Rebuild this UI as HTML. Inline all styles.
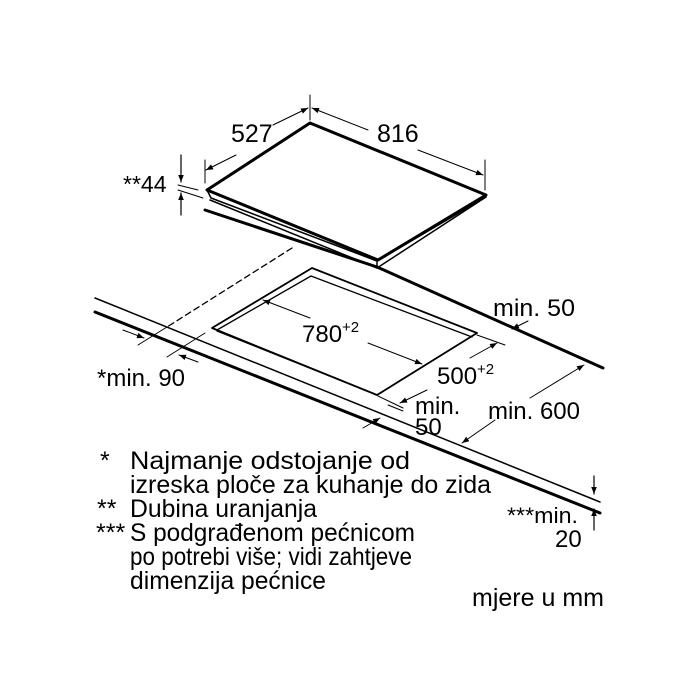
<!DOCTYPE html>
<html><head><meta charset="utf-8"><style>
html,body{margin:0;padding:0;background:#fff}
svg{display:block}
text{font-family:"Liberation Sans",Arial,sans-serif;fill:#000}
</style></head><body>
<svg width="700" height="700" viewBox="0 0 700 700" xmlns="http://www.w3.org/2000/svg">
<defs>
<marker id="a" viewBox="0 0 10 10" refX="10" refY="5" markerWidth="9" markerHeight="7" orient="auto-start-reverse" markerUnits="userSpaceOnUse">
<path d="M0,1 L10,5 L0,9 z" fill="#000"/></marker>
</defs>
<g stroke="#000" fill="none" stroke-linecap="round" stroke-linejoin="round">
<polygon points="310,123 486,195 378,260 207,190" stroke-width="3"/>
<polyline points="207,190 211,198 377,261 486,197" stroke-width="1.5"/>
<line x1="210" y1="200" x2="377" y2="268" stroke-width="1.5"/>
<line x1="377" y1="262" x2="377" y2="268" stroke-width="1.5"/>
<line x1="377" y1="268" x2="486" y2="197" stroke-width="1.5"/>
<line x1="205" y1="210" x2="377" y2="267" stroke-width="3"/>
<line x1="377" y1="267" x2="603" y2="368" stroke-width="3"/>
<line x1="95" y1="298" x2="600" y2="502" stroke-width="1.5"/>
<line x1="95" y1="312" x2="600" y2="513" stroke-width="3"/>
<line x1="292" y1="248" x2="167" y2="327" stroke-width="1.3" stroke-dasharray="6,4"/>
<polygon points="312,268 477,333 377,395 212,328" stroke-width="1.8"/>
<polyline points="217,330 311,276 472,337" stroke-width="1.3"/>
<line x1="217" y1="331" x2="377" y2="395" stroke-width="1.3"/>
<line x1="205" y1="160" x2="205" y2="183" stroke-width="1"/>
<line x1="310" y1="95" x2="310" y2="120" stroke-width="1"/>
<line x1="485" y1="160" x2="485" y2="190" stroke-width="1"/>
<line x1="273" y1="125" x2="308" y2="108" stroke-width="1" marker-end="url(#a)"/>
<line x1="236" y1="155" x2="206" y2="170" stroke-width="1" marker-end="url(#a)"/>
<line x1="368" y1="130" x2="312" y2="108" stroke-width="1" marker-end="url(#a)"/>
<line x1="418" y1="150" x2="483" y2="175" stroke-width="1" marker-end="url(#a)"/>
<line x1="181" y1="155" x2="181" y2="182" stroke-width="1.2" marker-end="url(#a)"/>
<line x1="181" y1="215" x2="181" y2="193" stroke-width="1.2" marker-end="url(#a)"/>
<line x1="178" y1="185" x2="198" y2="190" stroke-width="1"/>
<line x1="178" y1="190" x2="203" y2="198" stroke-width="1"/>
<line x1="310" y1="318" x2="263" y2="300" stroke-width="1" marker-end="url(#a)"/>
<line x1="368" y1="343" x2="422" y2="364" stroke-width="1" marker-end="url(#a)"/>
<line x1="477" y1="335" x2="505" y2="345" stroke-width="1"/>
<line x1="378" y1="396" x2="403" y2="408" stroke-width="1"/>
<line x1="470" y1="358" x2="497" y2="343" stroke-width="1" marker-end="url(#a)"/>
<line x1="427" y1="390" x2="400" y2="403" stroke-width="1" marker-end="url(#a)"/>
<line x1="363" y1="428" x2="380" y2="418" stroke-width="1" marker-end="url(#a)"/>
<line x1="388" y1="405" x2="403" y2="411" stroke-width="1"/>
<line x1="530" y1="398" x2="584" y2="365" stroke-width="1" marker-end="url(#a)"/>
<line x1="495" y1="420" x2="462" y2="443" stroke-width="1" marker-end="url(#a)"/>
<line x1="528" y1="321" x2="512" y2="329" stroke-width="1" marker-end="url(#a)"/>
<line x1="123" y1="330" x2="144" y2="338" stroke-width="1" marker-end="url(#a)"/>
<line x1="198" y1="362" x2="179" y2="355" stroke-width="1" marker-end="url(#a)"/>
<line x1="138" y1="345" x2="167" y2="327" stroke-width="1"/>
<line x1="167" y1="357" x2="205" y2="333" stroke-width="1"/>
<line x1="594" y1="476" x2="594" y2="494" stroke-width="1.2" marker-end="url(#a)"/>
<line x1="594" y1="530" x2="594" y2="509" stroke-width="1.2" marker-end="url(#a)"/>
</g>
<g font-size="24">
<text x="231" y="142" font-size="25">527</text>
<text x="377" y="142" font-size="25">816</text>
<text x="123" y="192" font-size="23">**44</text>
<text x="302" y="342">780<tspan font-size="15" dy="-10">+2</tspan></text>
<text x="437" y="384">500<tspan font-size="15" dy="-10">+2</tspan></text>
<text x="415" y="414">min.</text>
<text x="415" y="435">50</text>
<text x="488" y="419" textLength="92" lengthAdjust="spacingAndGlyphs">min. 600</text>
<text x="493" y="316" textLength="82" lengthAdjust="spacingAndGlyphs">min. 50</text>
<text x="97" y="386" textLength="88" lengthAdjust="spacingAndGlyphs">*min. 90</text>
<text x="507" y="523" font-size="22" textLength="71" lengthAdjust="spacingAndGlyphs">***min.</text>
<text x="555" y="547">20</text>
</g>
<g font-size="25">
<text x="100" y="469">*</text>
<text x="130" y="469" textLength="280" lengthAdjust="spacingAndGlyphs">Najmanje odstojanje od</text>
<text x="130" y="493" textLength="361" lengthAdjust="spacingAndGlyphs">izreska ploče za kuhanje do zida</text>
<text x="97" y="517">**</text>
<text x="130" y="517" textLength="187" lengthAdjust="spacingAndGlyphs">Dubina uranjanja</text>
<text x="96" y="541">***</text>
<text x="130" y="541" textLength="285" lengthAdjust="spacingAndGlyphs">S podgrađenom pećnicom</text>
<text x="130" y="565" textLength="282" lengthAdjust="spacingAndGlyphs">po potrebi više; vidi zahtjeve</text>
<text x="130" y="589" textLength="196" lengthAdjust="spacingAndGlyphs">dimenzija pećnice</text>
<text x="472" y="606" textLength="132" lengthAdjust="spacingAndGlyphs">mjere u mm</text>
</g>
</svg>
</body></html>
